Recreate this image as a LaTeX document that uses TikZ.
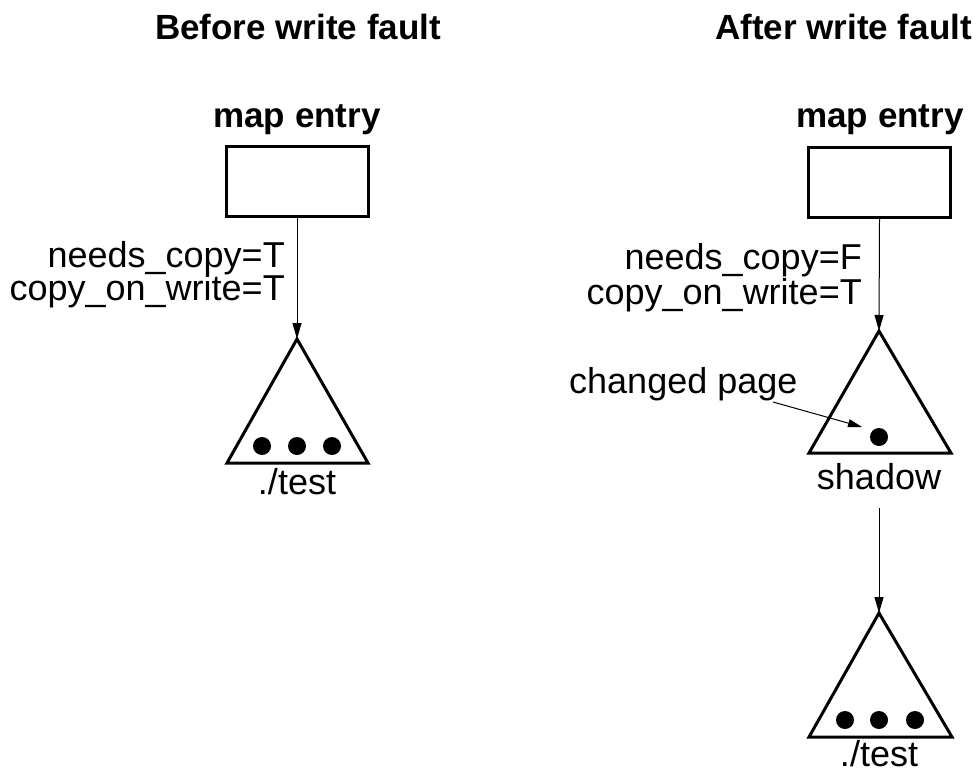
\documentclass[tikz,border=0pt]{standalone}
\usepackage{fontspec}
\setmainfont{Liberation Sans}
\usetikzlibrary{arrows.meta}
\begin{document}
\begin{tikzpicture}[x=1pt,y=-1pt,
  lbl/.style={inner sep=0pt,font=\fontsize{36}{36}\selectfont},
  blbl/.style={inner sep=0pt,font=\fontsize{35}{35}\selectfont\bfseries},
  box/.style={draw,line width=3pt,minimum width=142pt,minimum height=70pt,inner sep=0pt},
  tri/.style={draw,line width=3pt,line join=miter},
  dot/.style={fill=black},
  arr/.style={line width=1pt,-{Triangle[length=16pt,width=9pt]}}]
\useasboundingbox (0,0) rectangle (976,773);
% titles
\node[blbl,anchor=base] (t1) at (298,40) {Before write fault};
\node[blbl,anchor=base east] (t2) at (972,40) {After write fault};
% left column
\node[blbl,anchor=base] (m1) at (297,128) {map entry};
\node[box] (r1) at (297,181.5) {};
\coordinate (a1) at (297,339);
\draw[tri] (a1) -- (368,463) -- (227,463) -- cycle;
\foreach \x in {262,297,332} \fill[dot] (\x,446) circle (9);
\draw[arr] (r1.south) -- (a1);
\node[lbl,anchor=base east] (n1) at (285,267) {needs\_copy=T};
\node[lbl,anchor=base east] (c1) at (285,300) {copy\_on\_write=T};
\node[lbl,anchor=base] (f1) at (297,494) {./test};
% right column
\node[blbl,anchor=base] (m2) at (880,128) {map entry};
\node[box] (r2) at (879.5,182) {};
\coordinate (a2) at (879,331);
\draw[tri] (a2) -- (951,453) -- (809,453) -- cycle;
\fill[dot] (879,437) circle (9);
\coordinate (pg) at (862,427);
\draw[arr] (r2.south) -- (a2);
\node[lbl,anchor=base east] (n2) at (862,269) {needs\_copy=F};
\node[lbl,anchor=base east] (c2) at (862,304) {copy\_on\_write=T};
\node[lbl,anchor=base west] (cp) at (569,393) {changed page};
\coordinate (cps) at (773,402);
\draw[arr,-{Triangle[length=14pt,width=8pt]}] (cps) -- (pg);
\node[lbl,anchor=base] (sh) at (879,489) {shadow};
\coordinate (sho) at (879,508);
\coordinate (a3) at (879,613);
\draw[tri] (a3) -- (952,737) -- (809,737) -- cycle;
\foreach \x in {845,879,915} \fill[dot] (\x,720) circle (9);
\draw[arr] (sho) -- (a3);
\node[lbl,anchor=base] (f2) at (879,766) {./test};
\end{tikzpicture}
\end{document}
